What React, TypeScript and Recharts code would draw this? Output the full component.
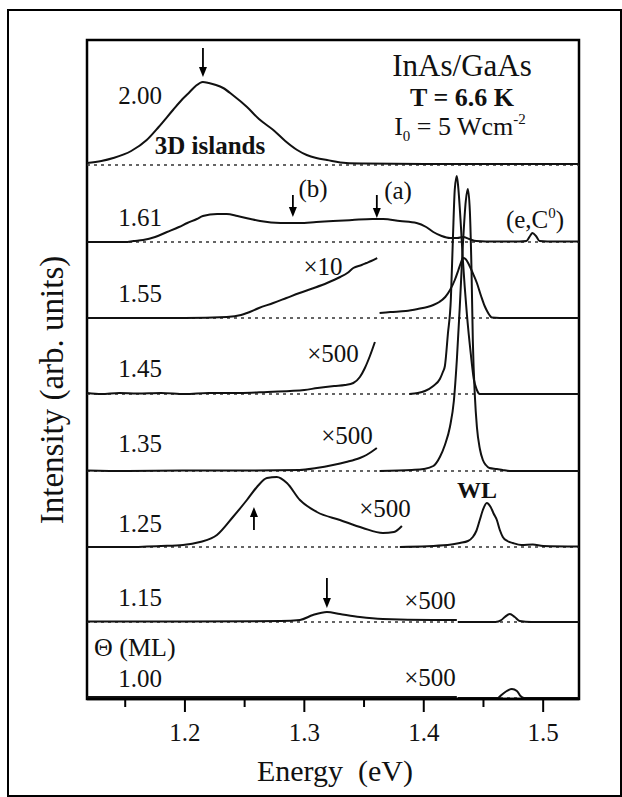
import React from 'react'
import {
  ComposedChart,
  Line,
  XAxis,
  YAxis,
  ReferenceLine,
  ReferenceArea,
  ReferenceDot,
} from 'recharts'

// coverage labels (ML) and vertical offsets of each trace
const coverages = ['1.00', '1.15', '1.25', '1.35', '1.45', '1.55', '1.61', '2.00']
const baselines = [1, 77, 152, 228, 305, 381, 457, 534]

const energyTicks = [1.15, 1.2, 1.25, 1.3, 1.35, 1.4, 1.45, 1.5]

// 2.00 ML
const e200 = [1.118, 1.13, 1.14, 1.155, 1.168, 1.178, 1.19, 1.198, 1.204, 1.209, 1.215, 1.22, 1.226, 1.232, 1.24, 1.252, 1.262, 1.274, 1.284, 1.294, 1.302, 1.31, 1.319, 1.335, 1.35, 1.4, 1.45, 1.53]
const i200 = [2, 4, 7, 14, 25, 38, 55, 66, 73, 79, 83, 82, 80, 77, 70, 58, 46, 35, 24, 15, 10, 7, 5, 2, 1.5, 1, 1, 1]

// 1.61 ML
const e161 = [1.118, 1.15, 1.157, 1.165, 1.175, 1.185, 1.195, 1.202, 1.21, 1.215, 1.227, 1.235, 1.244, 1.255, 1.263, 1.28, 1.296, 1.31, 1.324, 1.34, 1.357, 1.366, 1.38, 1.394, 1.402, 1.408, 1.415, 1.422, 1.428, 1.433, 1.438, 1.444, 1.46, 1.48, 1.486, 1.489, 1.491, 1.494, 1.497, 1.51, 1.53]
const i161 = [0, 0, 1, 2, 5, 10, 15, 19, 23, 26, 28, 28, 26, 23, 21, 19, 19, 20, 21, 22, 23, 23, 21, 19, 15, 10, 6, 4, 4, 5, 3, 1, 0.5, 0.5, 1, 6, 9, 6, 1, 0.5, 0.5]

// 1.55 ML (x10 part and main part)
const e155a = [1.118, 1.16, 1.2, 1.235, 1.247, 1.252, 1.262, 1.274, 1.285, 1.296, 1.308, 1.319, 1.33, 1.336, 1.341, 1.348, 1.352, 1.356, 1.361]
const i155a = [0, 0, 0, 1, 3, 5, 10, 15, 20, 25, 30, 35, 41, 45, 50, 53, 55, 57, 60]
const e155b = [1.363, 1.372, 1.385, 1.395, 1.403, 1.408, 1.413, 1.418, 1.422, 1.426, 1.429, 1.431, 1.433, 1.435, 1.438, 1.441, 1.4445, 1.448, 1.451, 1.453, 1.455, 1.457, 1.47, 1.53]
const i155b = [5, 6, 7, 9, 11, 13, 16, 21, 28, 38, 48, 55, 60, 59, 53, 45, 35, 22, 12, 7, 3, 0.5, 0, 0]

// 1.45 ML
const e145a = [1.118, 1.13, 1.145, 1.16, 1.18, 1.2, 1.22, 1.246, 1.269, 1.288, 1.3, 1.311, 1.325, 1.334, 1.341, 1.3465, 1.3507, 1.3549, 1.3591]
const i145a = [1, 0, 1, 0.5, 1, 0, 1, 1, 2, 3, 4, 6, 8, 9, 11, 17, 26, 38, 52]
const e145b = [1.388, 1.395, 1.401, 1.408, 1.4135, 1.416, 1.4177, 1.4202, 1.4227, 1.4244, 1.426, 1.4277, 1.429, 1.431, 1.4327, 1.4361, 1.4394, 1.4419, 1.4445, 1.4469, 1.53]
const i145b = [0, 1, 3, 8, 15, 22, 28, 60, 95, 155, 205, 218, 205, 170, 135, 80, 40, 15, 4, 0, 0]

// 1.35 ML
const e135a = [1.118, 1.15, 1.2, 1.25, 1.296, 1.31, 1.324, 1.335, 1.3465, 1.352, 1.356, 1.3607]
const i135a = [0.5, 0, 0.5, 0.5, 1, 3, 6, 9, 13, 16, 19, 23]
const e135b = [1.363, 1.39, 1.4, 1.408, 1.4135, 1.4177, 1.4219, 1.4252, 1.4277, 1.4302, 1.4327, 1.4352, 1.4369, 1.4386, 1.44, 1.4411, 1.4428, 1.4445, 1.447, 1.4495, 1.452, 1.455, 1.4612, 1.466, 1.4721, 1.53]
const i135b = [0, 1, 2, 5, 14, 26, 44, 70, 111, 165, 225, 270, 282, 260, 200, 130, 75, 44, 22, 11, 6, 3, 2, 1, 0, 0]

// 1.25 ML
const e125a = [1.118, 1.15, 1.18, 1.1984, 1.2126, 1.2268, 1.2402, 1.2519, 1.2603, 1.2687, 1.277, 1.2854, 1.2963, 1.3105, 1.3298, 1.349, 1.3658, 1.375, 1.3817]
const i125a = [0, 0, 1, 2, 5, 12, 30, 47, 60, 69, 70, 64, 47, 35, 27, 19, 14, 15, 21]
const e125b = [1.38, 1.42, 1.4302, 1.437, 1.4411, 1.444, 1.4469, 1.4495, 1.4528, 1.456, 1.4587, 1.4612, 1.4637, 1.4662, 1.47, 1.4746, 1.482, 1.4913, 1.5, 1.53]
const i125b = [0, 2, 4, 6, 10, 16, 27, 37, 44, 40, 33, 27, 17, 10, 6, 4, 2, 2.5, 1, 0.5]

// 1.15 ML
const e115a = [1.118, 1.2, 1.28, 1.2963, 1.3072, 1.3189, 1.3298, 1.3465, 1.3658, 1.4076, 1.4277]
const i115a = [0.5, 0.5, 1, 2, 7, 10, 8, 5, 3, 2, 2]
const e115b = [1.4285, 1.46, 1.465, 1.4679, 1.4721, 1.4762, 1.4804, 1.49, 1.53]
const i115b = [0, 0, 2, 5, 8, 5, 1, 0, 0]

// 1.00 ML
const e100a = [1.118, 1.2, 1.3, 1.4277]
const i100a = [1, 1, 1, 1]
const e100b = [1.4285, 1.462, 1.465, 1.4695, 1.4738, 1.478, 1.481, 1.484, 1.53]
const i100b = [0, 0, 3, 7, 9, 7, 2, 0, 0]

const pts = (E: number[], I: number[], base: number) => E.map((e, i) => ({ e, y: base + I[i] }))

const traces = [
  pts(e100a, i100a, baselines[0]),
  pts(e100b, i100b, baselines[0]),
  pts(e115a, i115a, baselines[1]),
  pts(e115b, i115b, baselines[1]),
  pts(e125a, i125a, baselines[2]),
  pts(e125b, i125b, baselines[2]),
  pts(e135a, i135a, baselines[3]),
  pts(e135b, i135b, baselines[3]),
  pts(e145a, i145a, baselines[4]),
  pts(e145b, i145b, baselines[4]),
  pts(e155a, i155a, baselines[5]),
  pts(e155b, i155b, baselines[5]),
  pts(e161, i161, baselines[6]),
  pts(e200, i200, baselines[7]),
]

// arrows: energy, tip height, direction (1 = pointing down), length
const arrows = [
  { e: 1.2151, y: 622, dir: 1, len: 29 },
  { e: 1.2904, y: 482, dir: 1, len: 22 },
  { e: 1.3607, y: 481, dir: 1, len: 23 },
  { e: 1.2578, y: 192, dir: -1, len: 23 },
  { e: 1.3189, y: 91, dir: 1, len: 30 },
]

const FONT = '"Times New Roman", "Liberation Serif", Times, serif'

const arrowShape = (dir: number, len: number) => (p: any) => {
  const { cx, cy } = p
  const head = 10
  return (
    <g>
      <line x1={cx} y1={cy - dir * len} x2={cx} y2={cy - dir * head} stroke="#000" strokeWidth={1.8} />
      <path d={`M${cx - 4},${cy - dir * head} L${cx + 4},${cy - dir * head} L${cx},${cy} Z`} fill="#000" />
    </g>
  )
}

const EnergyTick = (p: any) => {
  const { x, y, payload } = p
  const v = payload.value
  const major = Math.abs(v * 10 - Math.round(v * 10)) < 1e-6
  return (
    <g>
      <line x1={x} y1={y} x2={x} y2={y + (major ? 13 : 8)} stroke="#000" strokeWidth={2} />
      {major && (
        <text x={x} y={y + 42} textAnchor="middle" fontFamily={FONT} fontSize={25} fill="#111">
          {v.toFixed(1)}
        </text>
      )}
    </g>
  )
}

const T = ({ x, y, size = 25, bold = false, anchor = 'middle', children }: any) => (
  <text
    x={x}
    y={y}
    textAnchor={anchor}
    dominantBaseline="central"
    fontFamily={FONT}
    fontSize={size}
    fontWeight={bold ? 'bold' : 'normal'}
    fill="#111"
  >
    {children}
  </text>
)

const labelY = [678, 597, 523, 443, 368, 293, 217, 95]

export default function App() {
  return (
    <div style={{ position: 'fixed', left: 0, top: 0, width: 622, height: 797, background: '#fff' }}>
      <div
        style={{
          position: 'absolute',
          left: 7,
          top: 9,
          width: 615,
          height: 788,
          border: '2px solid #000',
          boxSizing: 'border-box',
        }}
      />
      <ComposedChart
        width={622}
        height={797}
        margin={{ top: 40, right: 43, left: 87, bottom: 0 }}
        style={{ position: 'absolute', left: 0, top: 0 }}
      >
        <XAxis
          type="number"
          dataKey="e"
          domain={[1.118, 1.53]}
          allowDataOverflow
          ticks={energyTicks}
          interval={0}
          height={98}
          tickSize={0}
          tickMargin={0}
          tickLine={false}
          axisLine={{ stroke: '#000', strokeWidth: 2.5 }}
          tick={<EnergyTick />}
        />
        <YAxis type="number" domain={[0, 659]} hide allowDataOverflow />
        <ReferenceArea
          x1={1.118}
          x2={1.53}
          y1={0}
          y2={659}
          fill="none"
          fillOpacity={0}
          stroke="#000"
          strokeWidth={2.5}
          ifOverflow="visible"
        />
        {baselines.map((b) => (
          <ReferenceLine key={b} y={b} stroke="#333" strokeWidth={1.4} strokeDasharray="3 4" />
        ))}
        {traces.map((d, i) => (
          <Line
            key={i}
            data={d}
            dataKey="y"
            type="monotone"
            stroke="#111"
            strokeWidth={2}
            dot={false}
            isAnimationActive={false}
          />
        ))}
        {arrows.map((a, i) => (
          <ReferenceDot key={i} x={a.e} y={a.y} r={1} ifOverflow="visible" shape={arrowShape(a.dir, a.len)} />
        ))}
      </ComposedChart>
      <svg width={622} height={797} style={{ position: 'absolute', left: 0, top: 0, pointerEvents: 'none' }}>
        {coverages.map((c, i) => (
          <T key={c} x={140} y={labelY[i]}>
            {c}
          </T>
        ))}
        <T x={94} y={647} size={26} anchor="start">
          Θ (ML)
        </T>
        <T x={210} y={145} bold>
          3D islands
        </T>
        <T x={462} y={65} size={31}>
          InAs/GaAs
        </T>
        <T x={462} y={97} size={26} bold>
          T = 6.6 K
        </T>
        <text x={460} y={135} textAnchor="middle" fontFamily={FONT} fontSize={26} fill="#111">
          I
          <tspan dy={6} fontSize={15}>
            0
          </tspan>
          <tspan dy={-6}> = 5 Wcm</tspan>
          <tspan dy={-11} fontSize={15}>
            -2
          </tspan>
        </text>
        <T x={313} y={188}>
          (b)
        </T>
        <T x={398} y={190}>
          (a)
        </T>
        <text x={535} y={228} textAnchor="middle" fontFamily={FONT} fontSize={25} fill="#111">
          (e,C
          <tspan dy={-10} fontSize={15}>
            0
          </tspan>
          <tspan dy={10}>)</tspan>
        </text>
        <T x={323} y={266}>×10</T>
        <T x={333} y={353}>×500</T>
        <T x={347} y={435}>×500</T>
        <T x={385} y={508}>×500</T>
        <T x={430} y={600}>×500</T>
        <T x={430} y={677}>×500</T>
        <T x={477} y={490} size={24} bold>
          WL
        </T>
        <T x={335} y={770} size={30}>
          {'Energy\u00A0\u00A0(eV)'}
        </T>
        <text
          x={52}
          y={390}
          transform="rotate(-90 52 390)"
          textAnchor="middle"
          dominantBaseline="central"
          fontFamily={FONT}
          fontSize={33}
          fill="#111"
        >
          Intensity (arb. units)
        </text>
      </svg>
    </div>
  )
}
